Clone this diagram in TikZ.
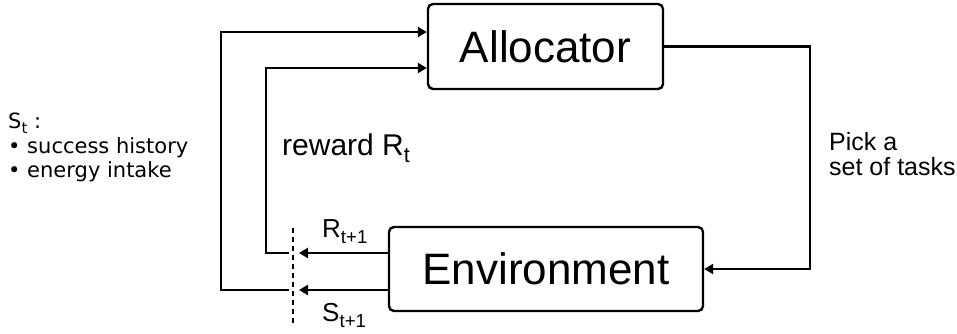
\documentclass[tikz,border=0pt]{standalone}
\usepackage{fontspec}
\setmainfont{Liberation Sans}
\newfontfamily\verdanafont{DejaVu Sans}
\usetikzlibrary{arrows.meta,positioning}
\newcommand{\lowtxt}[1]{\raisebox{-0.25em}{\scalebox{0.72}{#1}}}

\begin{document}
\begin{tikzpicture}[x=1pt, y=-1pt,
      block/.style={draw, line width=2.4pt, rounded corners=5pt, font=\fontsize{44}{48}\selectfont},
      flow/.style={line width=2.4pt, -{Triangle[length=9pt,width=10pt]}},
      wire/.style={line width=2.4pt},
      lbl/.style={font=\fontsize{26}{28}\selectfont, inner sep=0pt, anchor=base west},
      pick/.style={font=\fontsize{25}{25}\selectfont, inner sep=0pt, anchor=base west, align=left},
      note/.style={font=\verdanafont\fontsize{21}{24}\selectfont, inner sep=0pt, anchor=base west},
    ]
    \useasboundingbox (0,0) rectangle (957,333);

    % Boxes
    \node[block, minimum width=235pt, minimum height=85pt] (alloc) at (545.5,46.5) {Allocator};
    \node[block, minimum width=314pt, minimum height=84pt] (env) at (546,269) {Environment};

    % State description
    \node[note] (st) at (8,128) {S\lowtxt{t} :};
    \node[note] (hist) at (8,153) {\textbullet{} success history};
    \node[note] (food) at (8,177) {\textbullet{} energy intake};

    % Task choice
    \draw[flow] (alloc.east) -- (alloc.east -| 810,0) |- (env.east);
    \node[pick] (picka) at (829,150) {Pick a};
    \node[pick] (tasks) at (829,175) {set of tasks};

    % Cut between steps
    \coordinate (cuttop) at (293,228);
    \coordinate (cutbot) at (293,324);
    \draw[wire, dash pattern=on 5pt off 4pt] (cuttop) -- (cutbot);

    % Reward loop
    \coordinate (rin) at (299,253);
    \coordinate (rout) at (289,253);
    \draw[flow] (env.west |- rin) -- (rin);
    \draw[flow] (rout) -| (266,68) -- (alloc.west |- 0,68);
    \node[lbl] (rnext) at (322,237) {R\lowtxt{t+1}};
    \node[lbl, font=\fontsize{30}{32}\selectfont] (rew) at (282,155) {reward R\lowtxt{t}};

    % State loop
    \coordinate (sin) at (299,290);
    \coordinate (sout) at (289,290);
    \draw[flow] (env.west |- sin) -- (sin);
    \draw[flow] (sout) -| (221,32) -- (alloc.west |- 0,32);
    \node[lbl] (snext) at (322,321) {S\lowtxt{t+1}};
  \end{tikzpicture}
\end{document}
